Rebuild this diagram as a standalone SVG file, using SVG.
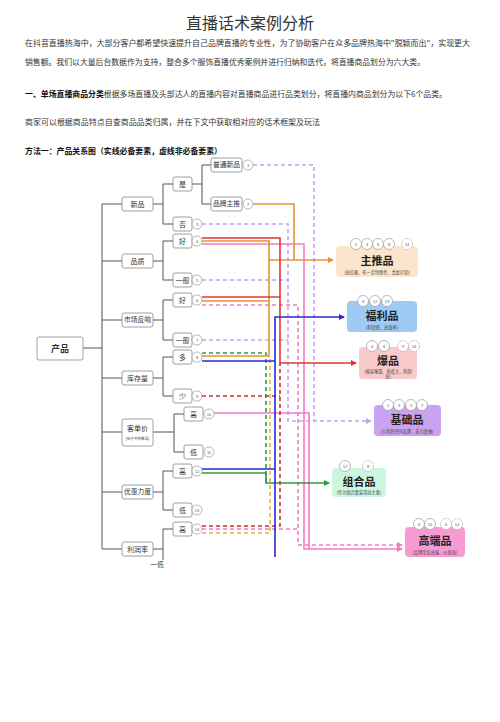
<svg xmlns="http://www.w3.org/2000/svg" width="500" height="722" viewBox="0 0 500 722">
<style>
.t{font-family:"Noto Sans CJK SC","Noto Sans",sans-serif;fill:#333}
.p{font-size:7.8px}
.b{font-weight:bold;fill:#111}
.box{fill:#fff;stroke:#888;stroke-width:0.8}
.tree{fill:none;stroke:#555;stroke-width:1}
.nl{font-family:"Noto Sans CJK SC","Noto Sans",sans-serif;font-size:7px;fill:#333;text-anchor:middle}
.s6{font-size:6.8px}
.s4{font-size:3.6px}
.s9{font-size:9px;font-weight:bold}
.c{fill:#fff;stroke:#999;stroke-width:0.7}
.cd{fill:#fff;stroke:#999;stroke-width:0.7;stroke-dasharray:1.5 1}
.cn{font-family:"Liberation Sans",sans-serif;font-size:4px;fill:#555;text-anchor:middle}
.ct{font-family:"Noto Sans CJK SC",sans-serif;font-size:11px;font-weight:bold;fill:#222;text-anchor:middle}
.cs{font-family:"Noto Sans CJK SC",sans-serif;font-size:4.2px;fill:#444;text-anchor:middle}
.ln{fill:none;stroke-width:1.6}
.d{stroke-dasharray:4 3}
</style>
<defs>
<marker id="aO" markerWidth="6" markerHeight="6" refX="5" refY="3" orient="auto" markerUnits="userSpaceOnUse"><path d="M0,0L6,3L0,6z" fill="#e8932f"/></marker>
<marker id="aR" markerWidth="6" markerHeight="6" refX="5" refY="3" orient="auto" markerUnits="userSpaceOnUse"><path d="M0,0L6,3L0,6z" fill="#e03434"/></marker>
<marker id="aB" markerWidth="6" markerHeight="6" refX="5" refY="3" orient="auto" markerUnits="userSpaceOnUse"><path d="M0,0L6,3L0,6z" fill="#2b2bcc"/></marker>
<marker id="aP" markerWidth="6" markerHeight="6" refX="5" refY="3" orient="auto" markerUnits="userSpaceOnUse"><path d="M0,0L6,3L0,6z" fill="#c5a3ee"/></marker>
<marker id="aG" markerWidth="6" markerHeight="6" refX="5" refY="3" orient="auto" markerUnits="userSpaceOnUse"><path d="M0,0L6,3L0,6z" fill="#2e9a3e"/></marker>
<marker id="aK" markerWidth="6" markerHeight="6" refX="5" refY="3" orient="auto" markerUnits="userSpaceOnUse"><path d="M0,0L6,3L0,6z" fill="#f07cc8"/></marker>
</defs>
<rect width="500" height="722" fill="#fff"/>

<g id="text">
<text class="t" x="250" y="29" font-size="16" text-anchor="middle">直播话术案例分析</text>
<text class="t p" x="25" y="46" textLength="445" lengthAdjust="spacingAndGlyphs">在抖音直播热海中，大部分客户都希望快速提升自己品牌直播的专业性，为了协助客户在众多品牌热海中"脱颖而出"，实现更大</text>
<text class="t p" x="25" y="65" textLength="400" lengthAdjust="spacingAndGlyphs">销售额。我们以大量后台数据作为支持，整合多个服饰直播优秀案例并进行归纳和迭代，将直播商品划分为六大类。</text>
<text class="t p" x="25" y="97" textLength="422" lengthAdjust="spacingAndGlyphs"><tspan class="b">一、单场直播商品分类</tspan>根据多场直播及头部达人的直播内容对直播商品进行品类划分，将直播内商品划分为以下6个品类。</text>
<text class="t p" x="25" y="125" textLength="295" lengthAdjust="spacingAndGlyphs">商家可以根据商品特点自查商品品类归属，并在下文中获取相对应的话术框架及玩法</text>
<text class="t p b" x="25" y="154" textLength="197" lengthAdjust="spacingAndGlyphs">方法一：产品关系图（实线必备要素，虚线非必备要素）</text>
</g>

<g id="connectors">
<path class="tree" d="M83,348H102M102,204V549M102,204H122M102,261H122M102,320H122M102,378H122M102,432H122M102,492H122M102,549H122"/>
<path class="tree" d="M153,204H163M163,184V224M163,184H173M163,224H173M192,184H202M202,165V204M202,165H211M202,204H211"/>
<path class="tree" d="M153,261H163M163,241V280M163,241H173M163,280H173"/>
<path class="tree" d="M153,320H163M163,300V340M163,300H173M163,340H173"/>
<path class="tree" d="M153,378H163M163,357V396M163,357H173M163,396H173"/>
<path class="tree" d="M153,432H174M174,414V452M174,414H184M174,452H184"/>
<path class="tree" d="M153,492H163M163,471V510M163,471H173M163,510H173"/>
<path class="tree" d="M153,549H163M163,529V560M163,529H173"/>
<path class="ln d" stroke="#c5a3ee" d="M253,165H314V421"/>
<path class="ln d" stroke="#c5a3ee" d="M202,224H288V421H371" marker-end="url(#aP)"/>
<path class="ln d" stroke="#c5a3ee" d="M202,280H288M202,340H288"/>
<path class="ln d" stroke="#f07cc8" d="M202,305H298V545H402" marker-end="url(#aK)"/>
<path class="ln d" stroke="#f07cc8" d="M202,529H298"/>
<path class="ln" stroke="#f07cc8" d="M202,244H304V549H402" marker-end="url(#aK)"/>
<path class="ln" stroke="#f07cc8" d="M214,413H309V549"/>
<path class="ln d" stroke="#e8b23a" d="M202,533H270V357"/>
<path class="ln d" stroke="#2e9a3e" d="M202,353H266V483"/>
<path class="ln" stroke="#2e9a3e" d="M202,473H266V483H329" marker-end="url(#aG)"/>
<path class="ln" stroke="#e8932f" d="M253,204H294V260"/>
<path class="ln" stroke="#e8932f" d="M202,241H269V357M202,301H269M202,356H269"/>
<path class="ln" stroke="#e8932f" d="M269,260H333" marker-end="url(#aO)"/>
<path class="ln" stroke="#e03434" d="M202,238H280V363H356" marker-end="url(#aR)"/>
<path class="ln" stroke="#e03434" d="M202,297H280"/>
<path class="ln" stroke="#c83232" stroke-dasharray="4 3" stroke-width="2" fill="none" d="M202,396H280M202,526H280V363"/>
<path class="ln" stroke="#2b2bcc" d="M275,557V317H344" marker-end="url(#aB)"/>
<path class="ln" stroke="#2b2bcc" d="M202,361H275M202,469H275"/>
</g>

<g id="n-product"><rect class="box" x="37" y="337" width="46" height="23" rx="2"/><text class="nl s9" x="60" y="351.5">产品</text></g>
<g id="n-new"><rect class="box" x="122" y="197" width="31" height="14" rx="2"/><text class="nl" x="137.5" y="206.5">新品</text></g>
<g id="n-quality"><rect class="box" x="122" y="254" width="31" height="14" rx="2"/><text class="nl" x="137.5" y="263.5">品质</text></g>
<g id="n-market"><rect class="box" x="122" y="313" width="31" height="14" rx="2"/><text class="nl s6" x="137.5" y="322.3">市场反响</text></g>
<g id="n-stock"><rect class="box" x="122" y="371" width="31" height="14" rx="2"/><text class="nl" x="137.5" y="380.5">库存量</text></g>
<g id="n-price"><rect class="box" x="122" y="419" width="31" height="27" rx="2"/><text class="nl" x="137.5" y="431">客单价</text><text class="nl s4" x="137.5" y="440">(低于平均单品)</text></g>
<g id="n-discount"><rect class="box" x="122" y="485" width="31" height="14" rx="2"/><text class="nl s6" x="137.5" y="494.3">优惠力度</text></g>
<g id="n-profit"><rect class="box" x="122" y="542" width="31" height="14" rx="2"/><text class="nl" x="137.5" y="551.5">利润率</text></g>
<g id="n-low-profit"><text class="nl s6" x="157" y="567">一低</text></g>

<g id="n-yes"><rect class="box" x="173" y="177" width="19" height="14" rx="2"/><text class="nl" x="182.5" y="186.5">是</text></g>
<g id="n-normal"><rect class="box" x="211" y="158" width="31" height="14" rx="2"/><text class="nl s6" x="226.5" y="167.3">普通新品</text><circle class="c" cx="248" cy="165" r="5"/><text class="cn" x="248" y="166.5">1</text></g>
<g id="n-brand"><rect class="box" x="211" y="197" width="31" height="14" rx="2"/><text class="nl s6" x="226.5" y="206.3">品牌主推</text><circle class="c" cx="248" cy="204" r="5"/><text class="cn" x="248" y="205.5">2</text></g>
<g id="n-no"><rect class="box" x="173" y="217" width="19" height="14" rx="2"/><text class="nl" x="182.5" y="226.5">否</text><circle class="c" cx="197" cy="224" r="5"/><text class="cn" x="197" y="225.5">3</text></g>
<g id="n-q-good"><rect class="box" x="173" y="234" width="19" height="14" rx="2"/><text class="nl" x="182.5" y="243.5">好</text><circle class="c" cx="197" cy="241" r="5"/><text class="cn" x="197" y="242.5">4</text></g>
<g id="n-q-avg"><rect class="box" x="173" y="273" width="19" height="14" rx="2"/><text class="nl" x="182.5" y="282.5">一般</text><circle class="c" cx="197" cy="280" r="5"/><text class="cn" x="197" y="281.5">5</text></g>
<g id="n-m-good"><rect class="box" x="173" y="293" width="19" height="14" rx="2"/><text class="nl" x="182.5" y="302.5">好</text><circle class="c" cx="197" cy="300" r="5"/><text class="cn" x="197" y="301.5">6</text></g>
<g id="n-m-avg"><rect class="box" x="173" y="333" width="19" height="14" rx="2"/><text class="nl" x="182.5" y="342.5">一般</text><circle class="c" cx="197" cy="340" r="5"/><text class="cn" x="197" y="341.5">7</text></g>
<g id="n-s-many"><rect class="box" x="173" y="350" width="19" height="14" rx="2"/><text class="nl" x="182.5" y="359.5">多</text><circle class="c" cx="197" cy="357" r="5"/><text class="cn" x="197" y="358.5">8</text></g>
<g id="n-s-few"><rect class="box" x="173" y="389" width="19" height="14" rx="2"/><text class="nl" x="182.5" y="398.5">少</text><circle class="c" cx="197" cy="396" r="5"/><text class="cn" x="197" y="397.5">9</text></g>
<g id="n-p-high"><rect class="box" x="184" y="407" width="19" height="14" rx="2"/><text class="nl" x="193.5" y="416.5">高</text><circle class="c" cx="209" cy="414" r="5"/><text class="cn" x="209" y="415.5">10</text></g>
<g id="n-p-low"><rect class="box" x="184" y="445" width="19" height="14" rx="2"/><text class="nl" x="193.5" y="454.5">低</text><circle class="c" cx="209" cy="452" r="5"/><text class="cn" x="209" y="453.5">11</text></g>
<g id="n-d-high"><rect class="box" x="173" y="464" width="19" height="14" rx="2"/><text class="nl" x="182.5" y="473.5">高</text><circle class="c" cx="197" cy="471" r="5"/><text class="cn" x="197" y="472.5">12</text></g>
<g id="n-d-low"><rect class="box" x="173" y="503" width="19" height="14" rx="2"/><text class="nl" x="182.5" y="512.5">低</text><circle class="c" cx="197" cy="510" r="5"/><text class="cn" x="197" y="511.5">13</text></g>
<g id="n-r-high"><rect class="box" x="173" y="522" width="19" height="14" rx="2"/><text class="nl" x="182.5" y="531.5">高</text><circle class="c" cx="197" cy="529" r="5"/><text class="cn" x="197" y="530.5">14</text></g>

<g id="c-main">
<rect x="336" y="246" width="82" height="31" rx="4" fill="#fde4cc"/>
<text class="ct" x="377" y="265">主推品</text>
<text class="cs" x="377" y="274">(高信赖、有一定特殊性、重复打扣)</text>
<circle class="c" cx="356" cy="244" r="5.5"/><text class="cn" x="356" y="245.5">2</text>
<circle class="c" cx="367" cy="244" r="5.5"/><text class="cn" x="367" y="245.5">4</text>
<circle class="c" cx="378" cy="244" r="5.5"/><text class="cn" x="378" y="245.5">6</text>
<circle class="c" cx="389" cy="244" r="5.5"/><text class="cn" x="389" y="245.5">8</text>
<circle class="cd" cx="407" cy="244" r="5.5"/><text class="cn" x="407" y="245.5">14</text>
</g>
<g id="c-welfare">
<rect x="347" y="301" width="70" height="31" rx="4" fill="#9dcbf4"/>
<text class="ct" x="382" y="320">福利品</text>
<text class="cs" x="382" y="329">(利润低、高效率)</text>
<circle class="c" cx="363" cy="301" r="5.5"/><text class="cn" x="363" y="302.5">8</text>
<circle class="c" cx="375" cy="301" r="5.5"/><text class="cn" x="375" y="302.5">12</text>
<circle class="c" cx="387" cy="301" r="5.5"/><text class="cn" x="387" y="302.5">13</text>
</g>
<g id="c-hot">
<rect x="359" y="347" width="58" height="32" rx="4" fill="#f9caca"/>
<text class="ct" x="388" y="365">爆品</text>
<text class="cs" x="388" y="373">(极易爆量、热度大、利润</text>
<text class="cs" x="388" y="378">高)</text>
<circle class="c" cx="372" cy="346" r="5.5"/><text class="cn" x="372" y="347.5">4</text>
<circle class="c" cx="384" cy="346" r="5.5"/><text class="cn" x="384" y="347.5">6</text>
<circle class="cd" cx="403" cy="346" r="5.5"/><text class="cn" x="403" y="347.5">9</text>
<circle class="cd" cx="414" cy="346" r="5.5"/><text class="cn" x="414" y="347.5">14</text>
</g>
<g id="c-basic">
<rect x="374" y="405" width="67" height="31" rx="4" fill="#c9a2f2"/>
<text class="ct" x="407" y="424">基础品</text>
<text class="cs" x="407" y="433">(大利润空间品牌、花力度做)</text>
<circle class="c" cx="388" cy="405" r="5.5"/><text class="cn" x="388" y="406.5">1</text>
<circle class="c" cx="399" cy="405" r="5.5"/><text class="cn" x="399" y="406.5">3</text>
<circle class="c" cx="411" cy="405" r="5.5"/><text class="cn" x="411" y="406.5">5</text>
<circle class="c" cx="422" cy="405" r="5.5"/><text class="cn" x="422" y="406.5">7</text>
</g>
<g id="c-combo">
<rect x="332" y="468" width="54" height="29" rx="4" fill="#cdf6df"/>
<text class="ct" x="359" y="486">组合品</text>
<text class="cs" x="359" y="494">(作为组合套装带动主要)</text>
<circle class="c" cx="345" cy="466" r="5.5"/><text class="cn" x="345" y="467.5">12</text>
<circle class="cd" cx="368" cy="466" r="5.5"/><text class="cn" x="368" y="467.5">8</text>
</g>
<g id="c-premium">
<rect x="405" y="527" width="60" height="30" rx="4" fill="#f79bd2"/>
<text class="ct" x="435" y="545">高端品</text>
<text class="cs" x="435" y="554">(品牌定位高端、价格高)</text>
<circle class="c" cx="419" cy="524" r="5.5"/><text class="cn" x="419" y="525.5">4</text>
<circle class="c" cx="430" cy="524" r="5.5"/><text class="cn" x="430" y="525.5">10</text>
<circle class="cd" cx="446" cy="524" r="5.5"/><text class="cn" x="446" y="525.5">6</text>
<circle class="cd" cx="457" cy="524" r="5.5"/><text class="cn" x="457" y="525.5">14</text>
</g>
</svg>
